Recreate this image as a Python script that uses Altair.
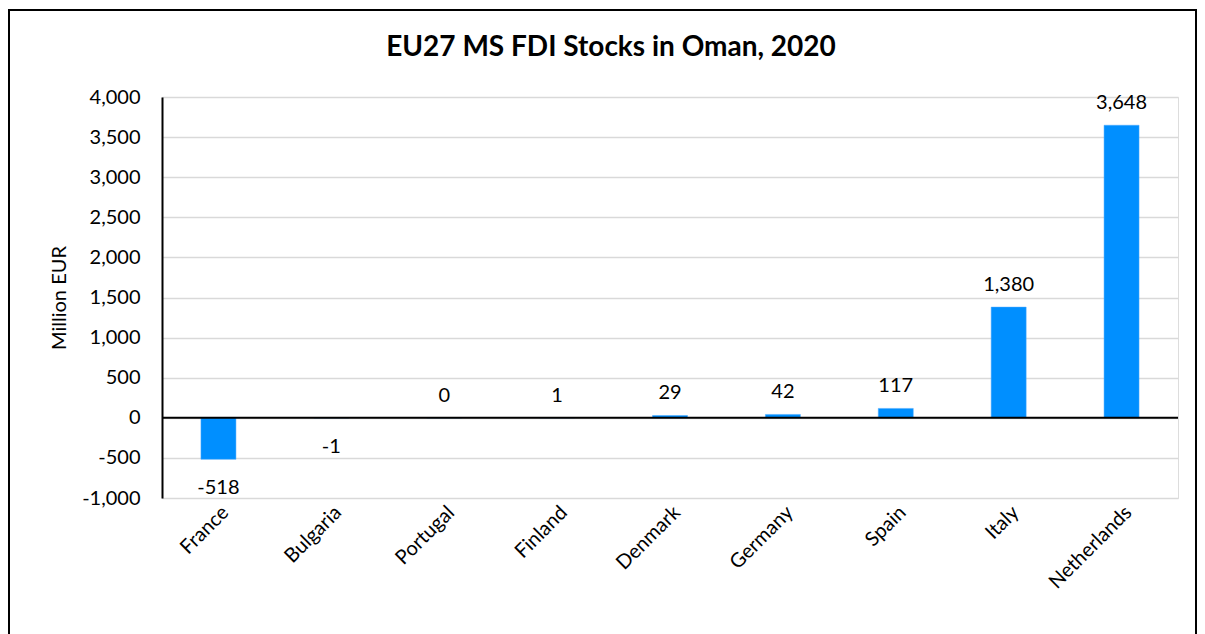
import altair as alt
import pandas as pd

countries = ["France", "Bulgaria", "Portugal", "Finland", "Denmark", "Germany", "Spain", "Italy", "Netherlands"]
values = [-518, -1, 0, 1, 29, 42, 117, 1380, 3648]
labels = ["-518", "-1", "0", "1", "29", "42", "117", "1,380", "3,648"]

df = pd.DataFrame({"country": countries, "value": values, "label": labels})

FONT = "Lato"
W, H = 1016, 401

x_enc = alt.X("country:N", sort=countries, title=None,
              scale=alt.Scale(paddingInner=0.69, paddingOuter=0.345),
              axis=alt.Axis(labelAngle=-45, labelFontSize=20, labelFont=FONT, labelColor="#000000",
                            domain=False, ticks=False, labelPadding=4))
y_enc = alt.Y("value:Q", title="Million EUR",
              scale=alt.Scale(domain=[-1000, 4000], nice=False, zero=False),
              axis=alt.Axis(values=list(range(-1000, 4001, 500)), format=",d",
                            labelExpr="replace(datum.label, '\u2212', '-')",
                            labelFontSize=20, labelFont=FONT, labelColor="#000000",
                            titleFontSize=20, titleFont=FONT, titleFontWeight="normal", titleColor="#000000",
                            titlePadding=12, labelPadding=22, ticks=False,
                            domain=True, domainColor="#000000", domainWidth=2,
                            grid=True, gridColor="#d9d9d9", gridWidth=1.5))

base = alt.Chart(df)

bars = base.mark_bar(color="#008fff", stroke="#4aa8ff", strokeWidth=0.5).encode(x=x_enc, y=y_enc, y2=alt.datum(0))

zero = alt.Chart(pd.DataFrame({"z": [0]})).mark_rule(color="#000000", strokeWidth=2).encode(y="z:Q")

pos = base.transform_filter("datum.value >= 0").mark_text(
    font=FONT, fontSize=20, color="#000000", baseline="middle", dy=-22
).encode(x=alt.X("country:N", sort=countries), y="value:Q", text="label:N")

neg = base.transform_filter("datum.value < 0").mark_text(
    font=FONT, fontSize=20, color="#000000", baseline="middle", dy=29
).encode(x=alt.X("country:N", sort=countries), y="value:Q", text="label:N")

border = alt.Chart(pd.DataFrame({"b": [0]})).mark_rect(
    fill=None, stroke="#000000", strokeWidth=2, clip=False
).encode(x=alt.value(-153), x2=alt.value(1034), y=alt.value(-87), y2=alt.value(560))

chart = alt.layer(bars, zero, pos, neg, border).properties(
    width=W, height=H,
    title=alt.TitleParams("EU27 MS FDI Stocks in Oman, 2020", font=FONT, fontSize=28, fontWeight="bold",
                          color="#000000", anchor="middle", frame="group", dx=-59, offset=-53),
    padding={"left": 154, "top": 89, "right": 19, "bottom": 136},
    autosize=alt.AutoSizeParams(type="none"),
).configure_view(stroke=None).configure(background="#ffffff")

chart.save("out.html", embed_options={"renderer": "svg", "actions": False})
